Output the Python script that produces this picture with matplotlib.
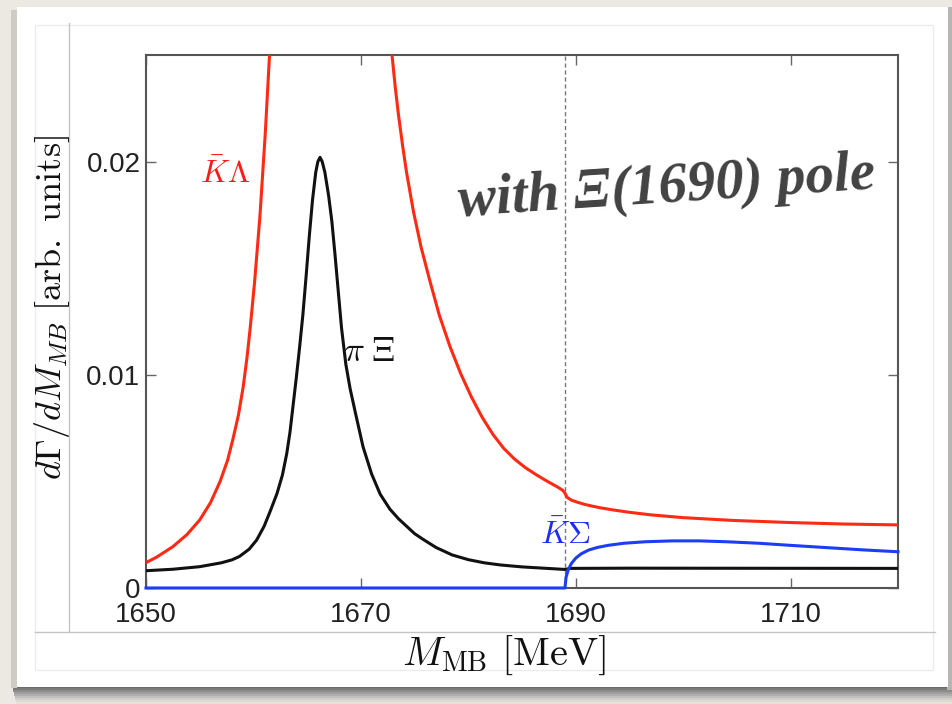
import matplotlib
matplotlib.use('Agg')
import matplotlib.pyplot as plt
import numpy as np
from matplotlib.patches import Rectangle
from matplotlib.lines import Line2D

plt.rcParams['mathtext.fontset'] = 'cm'

# ---------------- data ----------------
m_pixi = [1650.0, 1652.5, 1655.0, 1657.0, 1658.0, 1658.7, 1659.6, 1660.3, 1661.0, 1661.6, 1662.2,
          1662.7, 1663.1, 1663.4, 1663.7, 1664.0, 1664.3, 1664.6, 1664.9, 1665.2, 1665.5,
          1665.8, 1666.0, 1666.2, 1666.4, 1666.65, 1667.0, 1667.3, 1667.6, 1667.9, 1668.2,
          1668.6, 1669.0, 1669.5, 1670.2, 1671.0, 1671.8, 1672.7, 1673.5, 1674.25, 1675.0,
          1675.8, 1677.0, 1678.5, 1680.0, 1681.5, 1683.0, 1685.0, 1687.0, 1689.0, 1689.5,
          1695.0, 1720.0]
v_pixi = [0.00081, 0.00088, 0.00100, 0.00118, 0.00132, 0.00148, 0.00182, 0.00225, 0.00290, 0.00365, 0.00444,
          0.00530, 0.00630, 0.00730, 0.00860, 0.00990, 0.0113, 0.0128, 0.0146, 0.0165, 0.0182,
          0.0195, 0.0200, 0.0202, 0.0200, 0.0195, 0.0184, 0.0172, 0.0156, 0.0139, 0.0122,
          0.0105, 0.00935, 0.00820, 0.00663, 0.00535, 0.00440, 0.00370, 0.00325, 0.00290, 0.00255,
          0.00228, 0.00190, 0.00155, 0.00133, 0.00118, 0.00108, 0.00099, 0.00093, 0.00087, 0.00092,
          0.00093, 0.00092]

m_kbl = [1650.0, 1651.0, 1652.5, 1653.8, 1655.0, 1656.0, 1656.9, 1657.6, 1658.1, 1658.6,
         1659.05, 1659.4, 1659.7, 1660.1, 1660.6, 1661.1, 1661.5,
         np.nan,
         1672.9, 1673.2, 1673.5, 1673.9, 1674.25, 1674.9, 1675.6, 1676.4, 1677.3, 1678.3,
         1679.3, 1680.3, 1681.3, 1682.3, 1683.3, 1684.3, 1685.3, 1686.3, 1687.3, 1688.3,
         1688.8, 1689.0, 1689.2, 1689.6, 1690.3, 1691.0, 1692.2, 1693.5, 1695.0, 1697.0,
         1700.0, 1704.6, 1710.0, 1715.0, 1720.0]
v_kbl = [0.00119, 0.00145, 0.00194, 0.00250, 0.00319, 0.00400, 0.00500, 0.00600, 0.00700, 0.00810,
         0.00944, 0.0108, 0.0122, 0.0143, 0.0174, 0.0213, 0.0250,
         np.nan,
         0.0250, 0.0235, 0.0222, 0.0207, 0.0195, 0.01765, 0.0160, 0.01445, 0.0128, 0.01132,
         0.01005, 0.00895, 0.00800, 0.00720, 0.00655, 0.00605, 0.00565, 0.00532, 0.00502, 0.00474,
         0.00458, 0.00445, 0.00425, 0.00412, 0.00400, 0.00390, 0.00377, 0.00366, 0.00355, 0.00343,
         0.00330, 0.00317, 0.00307, 0.00300, 0.00296]

m_kbs = [1650.0, 1689.0, 1689.1, 1689.3, 1689.6, 1690.0, 1690.5, 1691.2, 1692.0, 1693.0,
         1694.5, 1696.5, 1699.0, 1701.5, 1704.0, 1707.0, 1710.0, 1713.5, 1717.0, 1720.0]
v_kbs = [0.0, 0.0, 0.00050, 0.00085, 0.00115, 0.00140, 0.00160, 0.00178, 0.00190, 0.00200,
         0.00210, 0.00217, 0.00221, 0.00221, 0.00217, 0.00210, 0.00200, 0.00189, 0.00178, 0.00170]

threshold = 1689.0
xticks = [1650, 1670, 1690, 1710]
yticks = [0, 0.01, 0.02]
ytick_labels = ['0', '0.01', '0.02']

# ---------------- figure & background ----------------
W, H = 952, 704
fig = plt.figure(figsize=(9.52, 7.04), dpi=100, facecolor='#ece9e3')

def fx(x):
    return x / W

def fy(y):
    return 1 - y / H

def rect(x0, y0, x1, y1, **kw):
    fig.patches.append(Rectangle((fx(x0), fy(y1)), fx(x1) - fx(x0), fy(y0) - fy(y1),
                                 transform=fig.transFigure, figure=fig, zorder=-10, **kw))

def line(xs, ys, **kw):
    fig.add_artist(Line2D([fx(x) for x in xs], [fy(y) for y in ys],
                          transform=fig.transFigure, zorder=-9, **kw))

# shadow below card
shades = ['#6a6a6a', '#7a7a7a', '#8c8c8c', '#9e9e9e', '#b0afad', '#c2c0bc', '#d2d0cb',
          '#dedbd5', '#e6e3dd']
for i, c in enumerate(shades):
    rect(12 + i * 0.5, 686 + i * 2, 952, 688 + i * 2, facecolor=c, edgecolor='none')
rect(11, 10, 17, 688, facecolor='#cfccc6', edgecolor='none')
rect(947, 7, 952, 690, facecolor='#b8b6b2', edgecolor='none')
# white card
rect(17, 7, 948, 687, facecolor='white', edgecolor='none')
# faint inner frame
rect(35, 25, 933, 670, facecolor='none', edgecolor='#ececec', linewidth=1)
# grey screenshot edge lines
line([69, 69], [23, 632], color='#c4c4c4', linewidth=1)
line([35, 935], [632, 632], color='#c4c4c4', linewidth=1)

# ---------------- axes ----------------
ax = fig.add_axes([fx(146), fy(588), (898 - 146) / W, (588 - 55) / H])
ax.set_zorder(5)
ax.set_facecolor('white')
ax.set_xlim(1650, 1720)
ax.set_ylim(0, 0.025)

ax.plot(m_kbl, v_kbl, color='#ff2a14', linewidth=2.2, solid_capstyle='round',
        solid_joinstyle='round', zorder=3)
ax.plot(m_pixi, v_pixi, color='#111111', linewidth=2.2, solid_capstyle='round',
        solid_joinstyle='round', zorder=3)
ax.plot(m_kbs, v_kbs, color='#1d3cf5', linewidth=2.2, clip_on=False,
        solid_joinstyle='round', zorder=4)
ax.axvline(threshold, color='#777777', linewidth=1.0, dashes=(3, 2), zorder=2)

for s in ax.spines.values():
    s.set_color('#555555')
    s.set_linewidth(1.5)

ax.set_xticks(xticks)
ax.set_xticklabels([str(t) for t in xticks])
ax.set_yticks(yticks)
ax.set_yticklabels(ytick_labels)
ax.tick_params(direction='in', length=7, width=1, color='#666666', top=True, right=True,
               labelsize=20, labelcolor='#222222')
ax.tick_params(axis='x', pad=10)
ax.tick_params(axis='y', pad=4)
for lab in ax.get_xticklabels() + ax.get_yticklabels():
    lab.set_family('Liberation Sans')

# curve labels
ax.text(1657.4, 0.0194, r'$\bar{K}\Lambda$', color='#ff1a1a', fontsize=23,
        ha='center', va='center')
ax.text(1670.75, 0.0111, r'$\pi\;\Xi$', color='#111111', fontsize=25,
        ha='center', va='center')
ax.text(1689.0, 0.00248, r'$\bar{K}\Sigma$', color='#1a2cff', fontsize=23,
        ha='center', va='center')

# axis labels
fig.text(fx(504), fy(655), r'$M_{\rm MB}\ [\mathrm{MeV}]$', fontsize=29,
         ha='center', va='center', color='#111111')
fig.text(fx(52), fy(308), r'$d\Gamma/dM_{MB}\ [\mathrm{arb.\ units}]$', fontsize=26,
         rotation=90, ha='center', va='center', color='#111111')

# annotation
fig.text(fx(667), fy(188), 'with \u039e(1690) pole', fontsize=41, family='Liberation Serif',
         style='italic', weight='bold', color='#424242', rotation=3.8,
         ha='center', va='center', rotation_mode='anchor', zorder=10)

fig.savefig('out.png', dpi=100, facecolor=fig.get_facecolor())
